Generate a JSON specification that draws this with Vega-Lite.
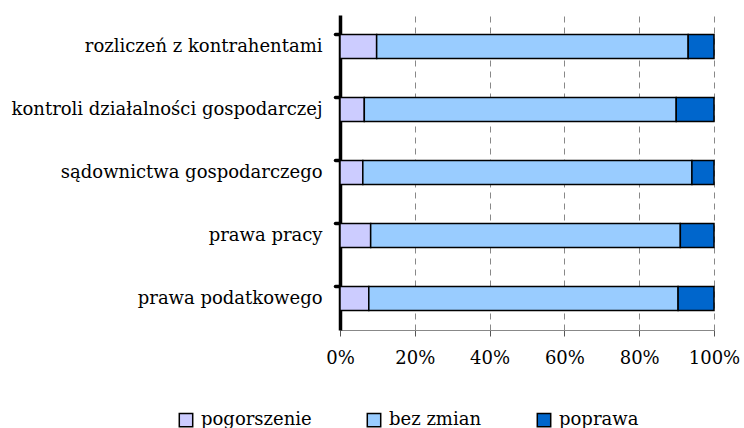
{
  "$schema": "https://vega.github.io/schema/vega-lite/v6.json",
  "width": 374,
  "height": 315,
  "autosize": "none",
  "padding": {"left": 340, "top": 15, "right": 30, "bottom": 98},
  "background": "white",
  "config": {
    "view": {"stroke": null},
    "font": "DejaVu Serif"
  },
  "data": {
    "values": [
      {"kat": "rozliczeń z kontrahentami", "ocena": "pogorszenie", "o": 1, "v": 9.8},
      {"kat": "rozliczeń z kontrahentami", "ocena": "bez zmian", "o": 2, "v": 83.3},
      {"kat": "rozliczeń z kontrahentami", "ocena": "poprawa", "o": 3, "v": 6.9},
      {"kat": "kontroli działalności gospodarczej", "ocena": "pogorszenie", "o": 1, "v": 6.5},
      {"kat": "kontroli działalności gospodarczej", "ocena": "bez zmian", "o": 2, "v": 83.4},
      {"kat": "kontroli działalności gospodarczej", "ocena": "poprawa", "o": 3, "v": 10.1},
      {"kat": "sądownictwa gospodarczego", "ocena": "pogorszenie", "o": 1, "v": 6.1},
      {"kat": "sądownictwa gospodarczego", "ocena": "bez zmian", "o": 2, "v": 88.0},
      {"kat": "sądownictwa gospodarczego", "ocena": "poprawa", "o": 3, "v": 5.9},
      {"kat": "prawa pracy", "ocena": "pogorszenie", "o": 1, "v": 8.2},
      {"kat": "prawa pracy", "ocena": "bez zmian", "o": 2, "v": 82.8},
      {"kat": "prawa pracy", "ocena": "poprawa", "o": 3, "v": 9.0},
      {"kat": "prawa podatkowego", "ocena": "pogorszenie", "o": 1, "v": 7.7},
      {"kat": "prawa podatkowego", "ocena": "bez zmian", "o": 2, "v": 82.7},
      {"kat": "prawa podatkowego", "ocena": "poprawa", "o": 3, "v": 9.6}
    ]
  },
  "resolve": {"axis": {"y": "independent"}},
  "layer": [
    {
      "mark": {"type": "bar", "stroke": "black", "strokeWidth": 1.5},
      "encoding": {
        "y": {
          "field": "kat", "type": "nominal", "sort": null,
          "scale": {"paddingInner": 0.62, "paddingOuter": 0.31},
          "axis": {
            "orient": "left", "title": null, "ticks": false, "domain": false,
            "labelFont": "DejaVu Serif", "labelFontSize": 18, "labelColor": "black",
            "labelPadding": 18, "labelLimit": 400
          }
        },
        "x": {
          "field": "v", "type": "quantitative", "stack": "normalize",
          "scale": {"domain": [0, 1]},
          "axis": {
            "title": null, "format": "%", "values": [0, 0.2, 0.4, 0.6, 0.8, 1],
            "grid": true, "gridColor": "#888888", "gridDash": [6, 5], "gridWidth": 1,
            "domainColor": "#888888", "domainWidth": 1,
            "tickColor": "#555555", "tickSize": 6, "tickWidth": 1,
            "labelFont": "DejaVu Serif", "labelFontSize": 18, "labelColor": "black",
            "labelPadding": 13, "labelFlush": false
          }
        },
        "color": {
          "field": "ocena", "type": "nominal",
          "scale": {"domain": ["pogorszenie", "bez zmian", "poprawa"], "range": ["#CCCCFF", "#99CCFF", "#0066CC"]},
          "legend": {
            "title": null, "orient": "none", "direction": "horizontal",
            "legendX": -163, "legendY": 396,
            "symbolType": "square", "symbolSize": 180, "symbolStrokeColor": "black", "symbolStrokeWidth": 1.5,
            "symbolOpacity": 1,
            "labelFont": "DejaVu Serif", "labelFontSize": 18, "labelColor": "black",
            "labelOffset": 6, "columnPadding": 52
          }
        },
        "order": {"field": "o", "type": "quantitative"}
      }
    },
    {
      "mark": {"type": "bar", "opacity": 0},
      "encoding": {
        "y": {
          "field": "kat", "type": "nominal", "sort": null,
          "scale": {"paddingInner": 0.62, "paddingOuter": 0.31},
          "axis": {
            "orient": "left", "title": null, "labels": false, "bandPosition": 0,
            "domainColor": "black", "domainWidth": 3.5,
            "tickColor": "black", "tickWidth": 3.5, "tickSize": 5, "tickCap": "round"
          }
        },
        "x": {"field": "v", "type": "quantitative", "stack": "normalize"}
      }
    }
  ]
}
